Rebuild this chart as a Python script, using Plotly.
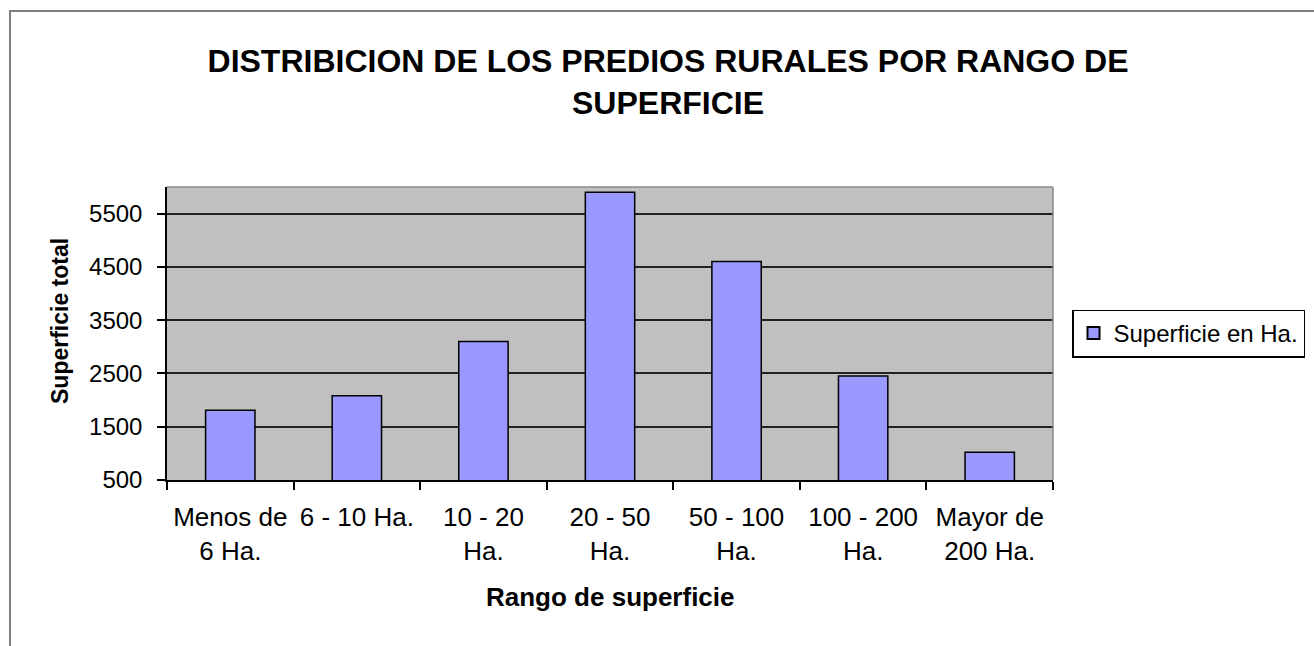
import plotly.graph_objects as go

categories = ["Menos de<br>6 Ha.", "6 - 10 Ha.", "10 - 20<br>Ha.", "20 - 50<br>Ha.",
              "50 - 100<br>Ha.", "100 - 200<br>Ha.", "Mayor de<br>200 Ha."]
values = [1810, 2080, 3100, 5900, 4600, 2450, 1020]
series_name = "Superficie en Ha."
title_text = "DISTRIBICION DE LOS PREDIOS RURALES POR RANGO DE<br>SUPERFICIE"
x_title = "Rango de superficie"
y_title = "Superficie total"

W, H = 1314, 646
L, R, T, B = 167, 261, 187, 166
pw, ph = W - L - R, H - T - B

FONT = "Liberation Sans, Arial, sans-serif"

fig = go.Figure()
fig.add_trace(go.Bar(
    x=categories, y=values, name=series_name,
    marker=dict(color="#9999ff", line=dict(color="#000000", width=1.5)),
))

fig.update_layout(
    width=W, height=H,
    margin=dict(l=L, r=R, t=T, b=B, autoexpand=False),
    paper_bgcolor="white", plot_bgcolor="#c0c0c0",
    bargap=0.61,
    font=dict(family=FONT, size=24, color="#000"),
    title=dict(text="<b>" + title_text + "</b>", x=668 / W, xanchor="center",
               xref="container", yref="container", y=1 - 72 / H, yanchor="top",
               font=dict(size=32, family=FONT, color="#000")),
    showlegend=True,
    legend=dict(x=(1072 - L) / pw, xanchor="left", y=0.5, yanchor="middle",
                bordercolor="#000", borderwidth=1.5, bgcolor="white",
                font=dict(size=24, family=FONT), itemsizing="constant"),
    xaxis=dict(showline=True, linecolor="#000", linewidth=1.5,
               ticks="outside", ticklen=8, tickcolor="#000", tickwidth=1.5,
               tickson="boundaries", showgrid=False, ticklabelstandoff=13,
               tickfont=dict(size=26, family=FONT)),
    yaxis=dict(range=[500, 6000], tick0=500, dtick=1000,
               showline=True, linecolor="#000", linewidth=1.5,
               ticks="outside", ticklen=8, tickcolor="#000", tickwidth=1.5,
               showgrid=True, gridcolor="#222", gridwidth=1.5,
               ticklabelstandoff=10, zeroline=False,
               tickfont=dict(size=24, family=FONT)),
)

fig.add_annotation(text="<b>" + x_title + "</b>", xref="paper", yref="paper",
                   x=0.5, y=-(597 - (T + ph)) / ph, xanchor="center", yanchor="middle",
                   showarrow=False, font=dict(size=26, family=FONT))
fig.add_annotation(text="<b>" + y_title + "</b>", xref="paper", yref="paper",
                   x=(60 - L) / pw, y=(T + ph - 321) / ph, xanchor="center", yanchor="middle",
                   textangle=-90, showarrow=False, font=dict(size=23, family=FONT))

# plot area top/right border (gray)
fig.add_shape(type="line", xref="x domain", yref="y domain", x0=0, x1=1, y0=1, y1=1,
              line=dict(color="#8a8a8a", width=1.5))
fig.add_shape(type="line", xref="x domain", yref="y domain", x0=1, x1=1, y0=0, y1=1,
              line=dict(color="#8a8a8a", width=1.5))
# outer chart frame (extends past right and bottom edges)
fig.add_shape(type="rect", xref="paper", yref="paper",
              x0=(10 - L) / pw, x1=(W + 20 - L) / pw,
              y0=(T + ph - (H + 20)) / ph, y1=(T + ph - 11) / ph,
              line=dict(color="#808080", width=2), fillcolor="rgba(0,0,0,0)")

fig.write_html("out.html", config={"displayModeBar": False},
               post_script="document.body.style.margin='0';document.body.style.overflow='hidden';")
